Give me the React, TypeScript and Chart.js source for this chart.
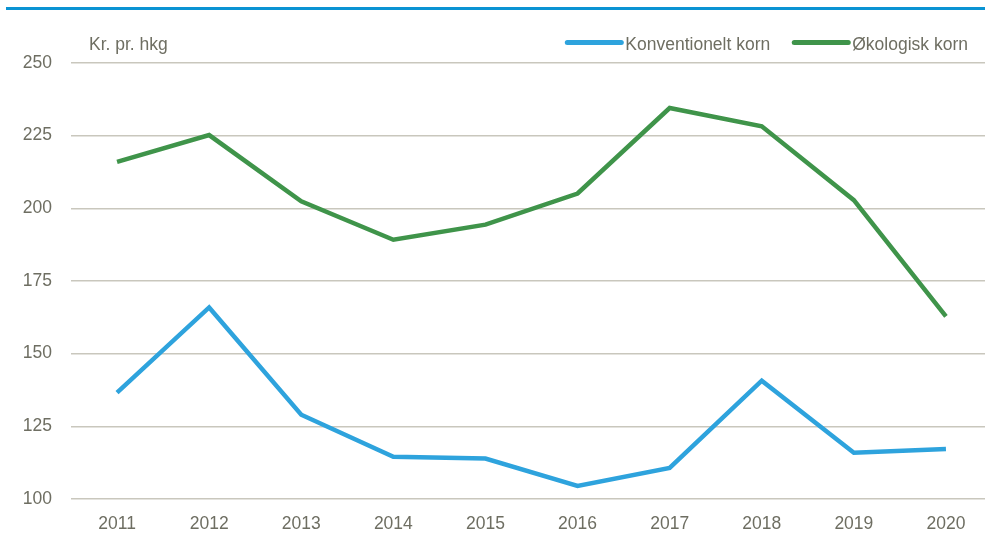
import React, { useEffect, useRef } from "react";
import { Chart, registerables } from "chart.js";

Chart.register(...registerables);

const years = ["2011", "2012", "2013", "2014", "2015", "2016", "2017", "2018", "2019", "2020"];
const konventionelt = [136.6, 165.9, 129.0, 114.5, 113.9, 104.5, 110.7, 140.7, 115.9, 117.2];
const okologisk = [216.0, 225.2, 202.4, 189.2, 194.4, 205.1, 234.5, 228.2, 202.8, 162.8];
const seriesNames = ["Konventionelt korn", "Økologisk korn"];
const unitLabel = "Kr. pr. hkg";

const TEXT = "#6e6e62";
const FONT = "17.5px 'Liberation Sans', Arial, sans-serif";

const decorPlugin = {
  id: "decor",
  afterDraw(chart: any) {
    const ctx = chart.ctx;
    ctx.save();
    // top rule
    ctx.fillStyle = "#0a93d3";
    ctx.fillRect(6, 7, 990, 3);
    // unit label
    ctx.font = FONT;
    ctx.fillStyle = TEXT;
    ctx.textBaseline = "alphabetic";
    ctx.textAlign = "left";
    ctx.fillText(unitLabel, 89, 50);
    // legend, anchored at the right
    let x = 968;
    const items = chart.data.datasets.map((d: any) => ({ label: d.label, color: d.borderColor }));
    for (let i = items.length - 1; i >= 0; i--) {
      const it = items[i];
      const w = ctx.measureText(it.label).width;
      const textX = x - w;
      ctx.fillStyle = TEXT;
      ctx.fillText(it.label, textX, 50);
      const lineEnd = textX - 4;
      const lineStart = lineEnd - 54;
      ctx.strokeStyle = it.color;
      ctx.lineWidth = 5;
      ctx.lineCap = "round";
      ctx.beginPath();
      ctx.moveTo(lineStart, 42.5);
      ctx.lineTo(lineEnd, 42.5);
      ctx.stroke();
      x = lineStart - 24;
    }
    ctx.restore();
  },
};

export default function App() {
  const ref = useRef<HTMLCanvasElement>(null);
  useEffect(() => {
    if (!ref.current) return;
    const chart = new Chart(ref.current, {
      type: "line",
      data: {
        labels: years,
        datasets: [
          {
            label: seriesNames[0],
            data: konventionelt,
            borderColor: "#2ea3dd",
            backgroundColor: "#2ea3dd",
            borderWidth: 4.5,
            pointRadius: 0,
            tension: 0,
          },
          {
            label: seriesNames[1],
            data: okologisk,
            borderColor: "#3f944a",
            backgroundColor: "#3f944a",
            borderWidth: 4.5,
            pointRadius: 0,
            tension: 0,
          },
        ],
      },
      options: {
        animation: false,
        responsive: false,
        devicePixelRatio: 1,
        layout: { padding: { top: 63, left: 0, right: 0, bottom: 4 } },
        plugins: {
          legend: { display: false },
          title: { display: false },
          tooltip: { enabled: false },
        },
        scales: {
          x: {
            offset: true,
            grid: { display: false, drawTicks: false },
            border: { display: false },
            ticks: {
              color: TEXT,
              font: { family: "'Liberation Sans', Arial, sans-serif", size: 17.5 },
              padding: 15,
              maxRotation: 0,
              autoSkip: false,
            },
          },
          y: {
            min: 100,
            max: 250,
            grid: { color: "#c9c7bd", lineWidth: 1.5, drawTicks: false },
            border: { display: false },
            afterFit(scale: any) {
              scale.width = 71;
            },
            ticks: {
              stepSize: 25,
              color: TEXT,
              font: { family: "'Liberation Sans', Arial, sans-serif", size: 17.5 },
              padding: 19,
            },
          },
        },
      },
      plugins: [decorPlugin],
    });
    return () => chart.destroy();
  }, []);
  return (
    <div
      style={{
        position: "fixed",
        left: 0,
        top: 0,
        width: 985,
        height: 538,
        overflow: "hidden",
        background: "#fff",
      }}
    >
      <canvas ref={ref} width={992} height={554} style={{ width: 992, height: 554, display: "block" }} />
    </div>
  );
}
